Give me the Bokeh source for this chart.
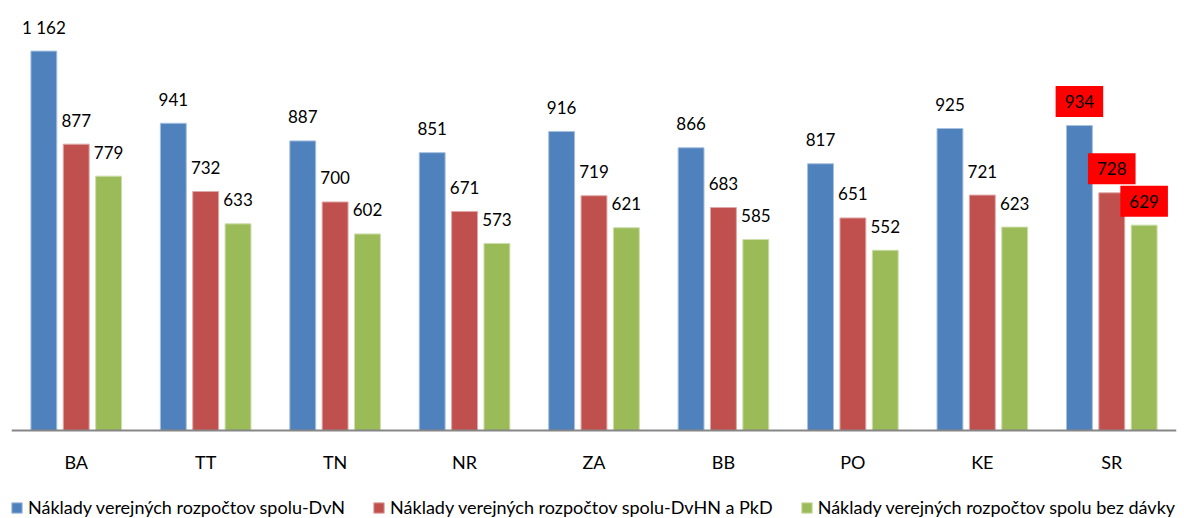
from bokeh.plotting import figure
from bokeh.models import ColumnDataSource, FactorRange, Range1d, Legend, LegendItem
from bokeh.transform import dodge
from bokeh.core.properties import value
from bokeh.embed import file_html
from bokeh.resources import INLINE

categories = ["BA", "TT", "TN", "NR", "ZA", "BB", "PO", "KE", "SR"]
dvn = [1162, 941, 887, 851, 916, 866, 817, 925, 934]
dvhn_pkd = [877, 732, 700, 671, 719, 683, 651, 721, 728]
bez_davky = [779, 633, 602, 573, 621, 585, 552, 623, 629]
series_names = [
    "Náklady verejných rozpočtov spolu-DvN",
    "Náklady verejných rozpočtov spolu-DvHN a PkD",
    "Náklady verejných rozpočtov spolu bez dávky",
]
highlighted = ["SR"]

FONT = "Lato"
colors = ["#4F81BD", "#C0504D", "#9BBB59"]
edge = ["#A7C0DE", "#DFA8A6", "#CDDDAC"]
offsets = [-0.25, 0.0, 0.25]


def fmt(v):
    return f"{v:,}".replace(",", " ")


series = [dvn, dvhn_pkd, bez_davky]
src = ColumnDataSource(dict(cat=categories, s0=dvn, s1=dvhn_pkd, s2=bez_davky))

idx_plain = [i for i, c in enumerate(categories) if c not in highlighted]
idx_hl = [i for i, c in enumerate(categories) if c in highlighted]


def label_source(idx):
    d = dict(cat=[categories[i] for i in idx])
    for k, s in enumerate(series):
        d[f"s{k}"] = [s[i] for i in idx]
        d[f"l{k}"] = [fmt(s[i]) for i in idx]
    return ColumnDataSource(d)


src_plain = label_source(idx_plain)
src_hl = label_source(idx_hl)

# frame spans the full height; the value axis runs below zero so that the
# category labels and legend sit inside the frame under the baseline
p = figure(
    x_range=FactorRange(*categories, range_padding=0),
    y_range=Range1d(-269.5, 1292.5),
    frame_width=1165,
    frame_height=510,
    min_border_left=11,
    min_border_right=8,
    min_border_top=8,
    min_border_bottom=0,
    output_backend="svg",
    toolbar_location=None,
)

renderers = []
for k in range(3):
    r = p.vbar(
        x=dodge("cat", offsets[k], range=p.x_range),
        top=f"s{k}",
        width=0.2,
        source=src,
        fill_color=colors[k],
        line_color=edge[k],
        line_width=1,
    )
    renderers.append(r)
    p.text(
        x=dodge("cat", offsets[k], range=p.x_range),
        y=f"s{k}",
        text=f"l{k}",
        source=src_plain,
        text_align="center",
        text_baseline="middle",
        y_offset=-24,
        text_font=value(FONT),
        text_font_size="17px",
        text_color="#000000",
    )
    p.text(
        x=dodge("cat", offsets[k], range=p.x_range),
        y=f"s{k}",
        text=f"l{k}",
        source=src_hl,
        text_align="center",
        text_baseline="middle",
        y_offset=-24,
        text_font=value(FONT),
        text_font_size="17px",
        text_color="#000000",
        background_fill_color="#FF0000",
        padding=9,
    )

p.yaxis.visible = False
p.xgrid.visible = False
p.ygrid.visible = False
p.outline_line_color = None

ax = p.xaxis[0]
ax.fixed_location = 0
ax.axis_line_color = "#868686"
ax.axis_line_width = 2
ax.major_tick_line_color = None
ax.minor_tick_line_color = None
ax.major_tick_out = 0
ax.major_tick_in = 0
ax.major_label_standoff = 20
ax.major_label_text_font = FONT
ax.major_label_text_font_size = "18px"
ax.major_label_text_color = "#000000"

legend = Legend(
    items=[LegendItem(label=series_names[k], renderers=[renderers[k]]) for k in range(3)],
    orientation="horizontal",
    location=(-1, 0),
    margin=0,
    padding=0,
    spacing=27,
    glyph_width=13,
    glyph_height=13,
    label_standoff=5,
    label_text_font=FONT,
    label_text_font_size="18px",
    label_text_color="#000000",
    background_fill_alpha=0,
    border_line_alpha=0,
)
p.add_layout(legend, "center")

open("out.html", "w").write(file_html(p, INLINE))
